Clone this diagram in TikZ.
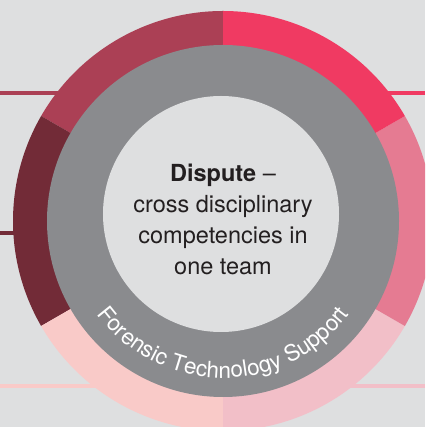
\documentclass[tikz,border=0pt]{standalone}
\usepackage{fontspec}
\setmainfont{TeX Gyre Heros}
\usetikzlibrary{decorations.text}

\definecolor{bgGray}{HTML}{DEDFE0}
\definecolor{ringGray}{HTML}{8A8B8E}
\definecolor{coreText}{HTML}{231F20}
\definecolor{segA}{HTML}{AB4055}
\definecolor{segB}{HTML}{722B37}
\definecolor{segC}{HTML}{F9CAC8}
\definecolor{segD}{HTML}{F2BFC8}
\definecolor{segE}{HTML}{E57B92}
\definecolor{segF}{HTML}{F03A62}

\begin{document}
\begin{tikzpicture}[x=1pt, y=1pt,
    lead/.style={line width=3.5pt},
    core/.style={align=center, text=coreText, font=\fontsize{23.5}{31}\selectfont},
    arcLabel/.style={decorate, decoration={text along path, text align=center, text color=white,
        text={|\fontsize{22.5}{22.5}\selectfont|Forensic Technology Support}}}
]

% Define canvas
\clip (-223,-206) rectangle (202,221);
\fill[bgGray] (-223,-206) rectangle (202,221);

% Define leader lines
\coordinate (l1) at (-223,128);
\coordinate (l1e) at (-150,128);
\coordinate (l2) at (-223,-12);
\coordinate (l2e) at (-190,-12);
\coordinate (l3) at (-223,-165);
\coordinate (l3e) at (-110,-165);
\coordinate (r1) at (202,128);
\coordinate (r1e) at (150,128);
\coordinate (r3) at (202,-165);
\coordinate (r3e) at (110,-165);

\draw[lead, segA] (l1) -- (l1e);
\draw[lead, segB] (l2) -- (l2e);
\draw[lead, segC] (l3) -- (l3e);
\draw[lead, segF] (r1) -- (r1e);
\draw[lead, segD] (r3) -- (r3e);

% Define ring segments
\foreach \a/\c in {90/segA, 150/segB, 210/segC, 270/segD, 330/segE, 30/segF}
  \fill[\c] (0,0) -- (\a:210) arc[start angle=\a, end angle=\a+60, radius=210] -- cycle;

% Define inner rings
\fill[ringGray] (0,0) circle[radius=176];
\fill[bgGray] (-2,7) circle[radius=118];

% Define labels
\node[core] (dispute) at (0,2) {\textbf{Dispute} –\\cross disciplinary\\competencies in\\one team};
\path[arcLabel] (200:157) arc[start angle=200, end angle=340, radius=157];

\end{tikzpicture}
\end{document}
